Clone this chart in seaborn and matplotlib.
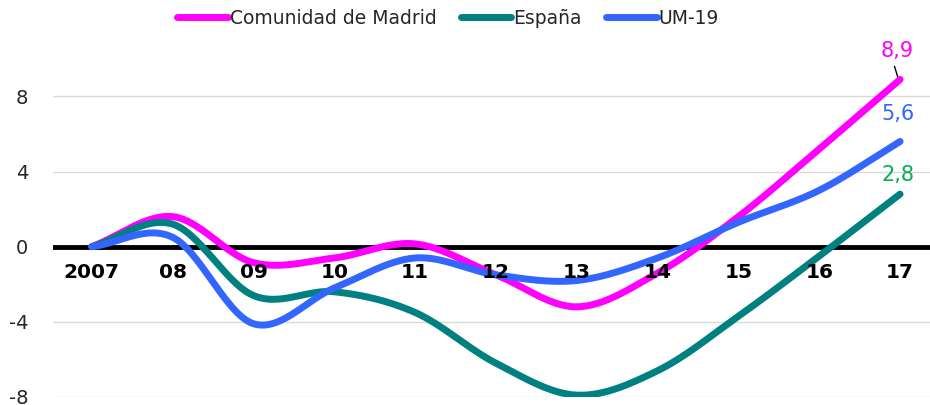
import numpy as np
import pandas as pd
import matplotlib
matplotlib.use("Agg")
import matplotlib.pyplot as plt
import seaborn as sns

years = ["2007", "08", "09", "10", "11", "12", "13", "14", "15", "16", "17"]
madrid = [0, 1.6, -0.85, -0.6, 0.15, -1.5, -3.2, -1.4, 1.6, 5.2, 8.9]
espana = [0, 1.2, -2.6, -2.4, -3.5, -6.2, -7.9, -6.6, -3.7, -0.5, 2.8]
um19 = [0, 0.5, -4.1, -2.2, -0.6, -1.5, -1.8, -0.6, 1.3, 3.0, 5.6]
series_names = ["Comunidad de Madrid", "España", "UM-19"]
colors = ["#FF00FF", "#008080", "#3366FF"]
end_labels = ["8,9", "2,8", "5,6"]
end_colors = ["#FF00FF", "#00B050", "#3366FF"]


def smooth(y, n=30):
    y = np.asarray(y, float)
    x = np.arange(len(y), dtype=float)
    P = np.concatenate([[2 * y[0] - y[1]], y, [2 * y[-1] - y[-2]]])
    xs, ys = [], []
    for i in range(len(y) - 1):
        p0, p1, p2, p3 = P[i], P[i + 1], P[i + 2], P[i + 3]
        t = np.linspace(0, 1, n, endpoint=False)
        yy = 0.5 * ((2 * p1) + (-p0 + p2) * t + (2 * p0 - 5 * p1 + 4 * p2 - p3) * t ** 2
                    + (-p0 + 3 * p1 - 3 * p2 + p3) * t ** 3)
        xs.append(x[i] + t)
        ys.append(yy)
    xs.append([x[-1]])
    ys.append([y[-1]])
    return np.concatenate(xs), np.concatenate(ys)


frames = []
for name, vals in zip(series_names, [madrid, espana, um19]):
    xs, ys = smooth(vals)
    frames.append(pd.DataFrame({"x": xs, "y": ys, "serie": name}))
df = pd.concat(frames, ignore_index=True)

sns.set_style("white")
plt.rcParams["font.family"] = ["DejaVu Sans"]

fig = plt.figure(figsize=(9.3, 4.05), dpi=100)
ax = fig.add_axes([53 / 930, 8 / 405, 877 / 930, 357 / 405])

ax.set_ylim(-8, 11)
ax.set_xlim(-0.48, 10.37)
for v in [8, 4, -4, -8]:
    ax.axhline(v, color="#D9D9D9", lw=1, zorder=0)
ax.axhline(0, color="black", lw=3.5, zorder=1)

sns.lineplot(data=df, x="x", y="y", hue="serie", palette=colors,
             hue_order=series_names, lw=5, ax=ax, sort=False,
             solid_capstyle="round", zorder=3)

for s in ax.spines.values():
    s.set_visible(False)
ax.set_xlabel("")
ax.set_ylabel("")
ax.set_yticks([8, 4, 0, -4, -8])
ax.set_yticklabels(["8", "4", "0", "-4", "-8"], fontsize=14)
ax.tick_params(axis="y", length=0, pad=18)
ax.set_xticks([])
for i, lab in enumerate(years):
    ax.text(i, -1.4, lab, ha="center", va="center", fontsize=14.5,
            fontweight="bold", color="black", zorder=5)

last = [madrid[-1], espana[-1], um19[-1]]
offsets = [1.5, 1.0, 1.45]
for lab, c, v, off in zip(end_labels, end_colors, last, offsets):
    ax.text(9.97, v + off, lab, ha="center", va="center", fontsize=15, color=c)
ax.plot([9.97, 9.93], [9.05, 9.6], color="black", lw=1, zorder=6)

h, l = ax.get_legend_handles_labels()
ax.get_legend().remove()
fig.legend(h, l, loc="center", bbox_to_anchor=(448 / 930, 1 - 18 / 405), ncol=3,
           frameon=False, fontsize=13.5, handlelength=2.7, handletextpad=0.1,
           columnspacing=1.3, borderpad=0, borderaxespad=0)

fig.savefig("out.png", dpi=100)
